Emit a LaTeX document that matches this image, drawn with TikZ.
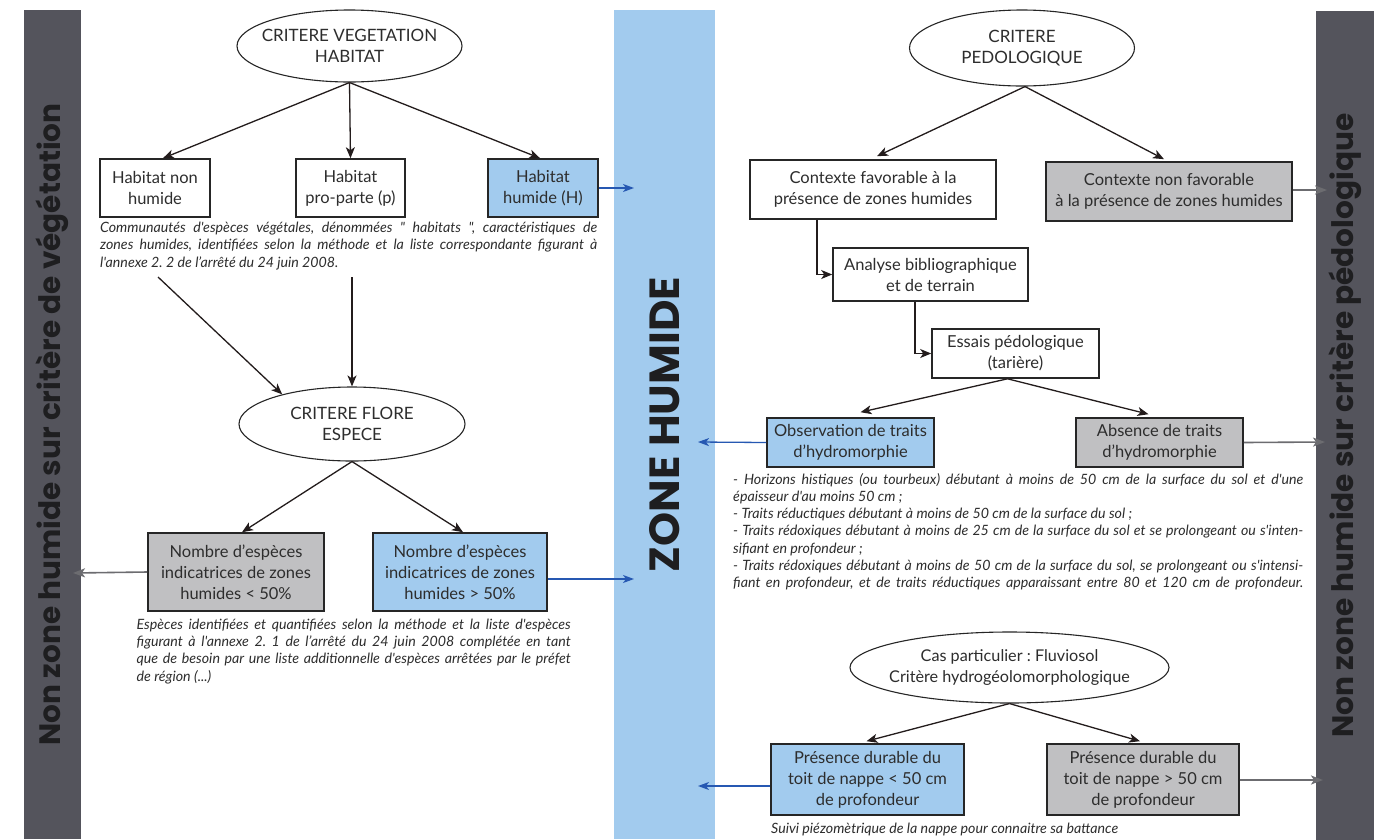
\documentclass[tikz,border=0pt]{standalone}
\usepackage{fontspec}
\setmainfont{Lato}[Ligatures=TeXOff]
\newfontfamily\bandfont{Poppins}[Ligatures=TeXOff]
\usetikzlibrary{arrows.meta,shapes.geometric,calc}
\frenchspacing

\definecolor{bandgray}{RGB}{84,84,92}
\definecolor{zhblue}{RGB}{162,203,238}
\definecolor{boxgray}{RGB}{192,192,194}
\definecolor{arrblue}{RGB}{38,88,178}
\definecolor{arrgray}{RGB}{108,108,112}
\definecolor{arrdark}{RGB}{35,28,28}
\definecolor{txt}{RGB}{45,45,45}
\definecolor{bandtxt}{RGB}{30,30,32}

\tikzset{
  box/.style={draw=black!85, line width=1.6pt, inner sep=0pt, align=center, text=txt,
    font=\fontsize{16.5}{21}\selectfont},
  wbox/.style={box, fill=white},
  bbox/.style={box, fill=zhblue},
  gbox/.style={box, fill=boxgray},
  ell/.style={ellipse, draw=black!85, line width=1.1pt, inner xsep=-45pt, inner ysep=0pt,
    align=center, fill=white, text=txt, font=\fontsize{16.2}{21}\selectfont},
  capsell/.style={ell, font=\fontsize{17}{21}\selectfont},
  noteline/.style={inner sep=0pt, anchor=base west, text=txt,
    font=\fontsize{14.2}{17.4}\selectfont\itshape},
  link/.style={draw=arrdark, line width=1.3pt, -{Stealth[length=11pt,width=9pt,inset=3pt]}},
  tozh/.style={draw=arrblue, line width=1.3pt, -{Stealth[length=11pt,width=8pt,inset=3pt]}},
  tonon/.style={draw=arrgray, line width=1.6pt, -{Stealth[length=12pt,width=9pt,inset=3pt]}},
  band/.style={rotate=90, inner sep=0pt, text=bandtxt, minimum width=829pt}
}

\begin{document}
\begin{tikzpicture}[x=1pt,y=-1pt]
\useasboundingbox (0,0) rectangle (1392,839);
\fill[white] (0,0) rectangle (1392,839);

% bands
\node[band, fill=bandgray, minimum height=57pt] (bandL) at (52.5,424.5)
  {\resizebox{642pt}{!}{\bandfont\bfseries Non zone humide sur critère de végétation}};
\node[band, fill=zhblue, minimum height=101pt] (bandC) at (664.5,424.5)
  {\resizebox{295pt}{30pt}{\bandfont\bfseries ZONE HUMIDE}};
\node[band, fill=bandgray, minimum height=58pt] (bandR) at (1345,425.5)
  {\resizebox{624pt}{!}{\bandfont\bfseries Non zone humide sur critère pédologique}};

% arrow end points on the bands
\coordinate (zhA) at (634,188);
\coordinate (zhB) at (634,579);
\coordinate (zhC) at (698,442);
\coordinate (zhD) at (698,786);
\coordinate (nvA) at (73,573);
\coordinate (npA) at (1327,190);
\coordinate (npB) at (1325,442);
\coordinate (npC) at (1323,780);
\coordinate (n1a) at (158,277);
\coordinate (n1b) at (352,277);

% ---------- left column ----------
\node[capsell, minimum width=225pt, minimum height=72pt] (e1) at (349.5,46) {CRITERE VEGETATION\\HABITAT};
\node[wbox, minimum width=110pt, minimum height=58pt] (hnon) at (155,188) {Habitat non\\humide};
\node[wbox, minimum width=109pt, minimum height=58pt] (hpp) at (350.5,188) {Habitat\\pro-parte (p)};
\node[bbox, minimum width=110pt, minimum height=58pt] (hh) at (543,188) {Habitat\\humide (H)};

\node[noteline] (n1l1) at (100,232) {\makebox[497pt][s]{Communautés d'espèces végétales, dénommées " habitats ", caractéristiques de}};
\node[noteline] (n1l2) at (100,249.5) {\makebox[497pt][s]{zones humides, identifiées selon la méthode et la liste correspondante figurant à}};
\node[noteline] (n1l3) at (100,267) {l'annexe 2. 2 de l’arrêté du 24 juin 2008.};

\node[capsell, minimum width=226pt, minimum height=74pt] (ef) at (352,424) {CRITERE FLORE\\ESPECE};
\node[gbox, minimum width=176pt, minimum height=78pt] (nlt) at (236,572) {Nombre d’espèces\\indicatrices de zones\\humides < 50\%};
\node[bbox, minimum width=174pt, minimum height=78pt] (ngt) at (460,572) {Nombre d’espèces\\indicatrices de zones\\humides > 50\%};

\node[noteline] (n2l1) at (136.5,629) {\makebox[434pt][s]{Espèces identifiées et quantifiées selon la méthode et la liste d'espèces}};
\node[noteline] (n2l2) at (136.5,646) {\makebox[434pt][s]{figurant à l'annexe 2. 1 de l’arrêté du 24 juin 2008 complétée en tant}};
\node[noteline] (n2l3) at (136.5,663) {\makebox[434pt][s]{que de besoin par une liste additionnelle d'espèces arrêtées par le préfet}};
\node[noteline] (n2l4) at (136.5,681) {de région (...)};

% ---------- right column ----------
\node[capsell, minimum width=225pt, minimum height=76pt] (ep) at (1022,48) {CRITERE\\PEDOLOGIQUE};
\node[wbox, minimum width=246pt, minimum height=59pt] (cf) at (873,189.5) {Contexte favorable à la\\présence de zones humides};
\node[gbox, minimum width=246pt, minimum height=59pt] (cnf) at (1169,191.5) {Contexte non favorable\\à la présence de zones humides};
\node[wbox, minimum width=195pt, minimum height=53pt] (ab) at (930.5,274.5) {Analyse bibliographique\\et de terrain};
\node[wbox, minimum width=167pt, minimum height=49pt] (es) at (1015.5,353.5) {Essais pédologique\\(tarière)};
\node[bbox, minimum width=167pt, minimum height=49pt] (obs) at (850.5,442.5) {Observation de traits\\d’hydromorphie};
\node[gbox, minimum width=167pt, minimum height=49pt] (abs) at (1159.5,442.5) {Absence de traits\\d’hydromorphie};

\node[noteline] (n3l1) at (733,484) {\makebox[570pt][s]{- Horizons histiques (ou tourbeux) débutant à moins de 50 cm de la surface du sol et d'une}};
\node[noteline] (n3l2) at (733,501.3) {épaisseur d'au moins 50 cm ;};
\node[noteline] (n3l3) at (733,518.6) {- Traits réductiques débutant à moins de 50 cm de la surface du sol ;};
\node[noteline] (n3l4) at (733,535.9) {\makebox[570pt][s]{- Traits rédoxiques débutant à moins de 25 cm de la surface du sol et se prolongeant ou s'inten-}};
\node[noteline] (n3l5) at (733,553.2) {sifiant en profondeur ;};
\node[noteline] (n3l6) at (733,570.5) {\makebox[570pt][s]{- Traits rédoxiques débutant à moins de 50 cm de la surface du sol, se prolongeant ou s'intensi-}};
\node[noteline] (n3l7) at (733,587.8) {\makebox[570pt][s]{fiant en profondeur, et de traits réductiques apparaissant entre 80 et 120 cm de profondeur.}};

\node[ell, minimum width=319pt, minimum height=71pt] (ec) at (1009.5,667.5) {Cas particulier : Fluviosol\\Critère hydrogéolomorphologique};
\node[bbox, minimum width=193pt, minimum height=71pt] (p1) at (867.5,779.5) {Présence durable du\\toit de nappe < 50 cm\\de profondeur};
\node[gbox, minimum width=192pt, minimum height=71pt] (p2) at (1143,779.5) {Présence durable du\\toit de nappe > 50 cm\\de profondeur};
\node[noteline] (n4l1) at (771,833) {Suivi piézomètrique de la nappe pour connaitre sa battance};

% ---------- connectors ----------
\draw[link] (e1.south) -- ([xshift=8pt]hnon.north);
\draw[link] (e1.south) -- (hpp.north);
\draw[link] (e1.south) -- ([xshift=-3pt]hh.north);
\draw[tozh] (hh.east) -- (zhA);
\draw[link] (n1a) -- (ef.157);
\draw[link] (n1b) -- (ef.north);
\draw[link] (ef.south) -- ([xshift=6pt]nlt.north);
\draw[link] (ef.south) -- ([xshift=3pt]ngt.north);
\draw[tonon] (nlt.west) -- (nvA);
\draw[tozh] ([yshift=-7pt]ngt.east) -- (zhB);

\draw[link] ([xshift=3pt]ep.south) -- ([xshift=4pt,yshift=3pt]cf.north);
\draw[link] ([xshift=3pt]ep.south) -- ([xshift=-5pt,yshift=2pt]cnf.north);
\draw[tonon] ([yshift=1.5pt]cnf.east) -- (npA);
\draw[link] ([xshift=-56pt]cf.south) |- (ab.west);
\draw[link] ([xshift=-15.5pt]ab.south) |- (es.west);
\draw[link] ([xshift=-8pt]es.south) -- ([xshift=10pt,yshift=5pt]obs.north);
\draw[link] ([xshift=-8pt]es.south) -- ([xshift=-11pt,yshift=3pt]abs.north);
\draw[tozh] (obs.west) -- (zhC);
\draw[tonon] (abs.east) -- (npB);
\draw[link] (ec.south) -- ([xshift=-1pt,yshift=2pt]p1.north);
\draw[link] (ec.south) -- ([xshift=-3pt,yshift=2pt]p2.north);
\draw[tozh] ([yshift=-6.5pt]p1.west) -- (zhD);
\draw[tonon] ([yshift=-0.5pt]p2.east) -- (npC);
\end{tikzpicture}
\end{document}
